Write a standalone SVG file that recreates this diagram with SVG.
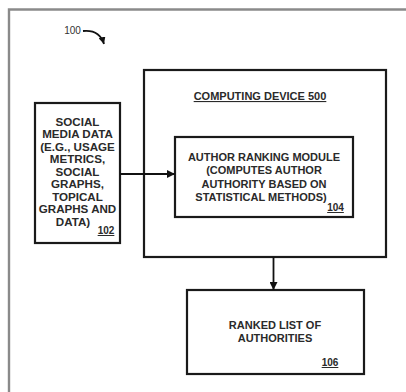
<svg xmlns="http://www.w3.org/2000/svg" width="406" height="392" viewBox="0 0 406 392">
<style>
.box{fill:#fff;stroke:#1a1a1a;stroke-width:2.2}
.t{font-family:"Liberation Sans",Arial,sans-serif;font-weight:bold;font-size:11px;fill:#2a2a2a;text-anchor:middle}
.s{font-size:11.6px}
.u{text-decoration:underline}
.c{stroke:#111;stroke-width:1.8;fill:none}
</style>
<defs>
<marker id="ah" viewBox="0 0 10 10" refX="10" refY="5" markerWidth="8" markerHeight="8" markerUnits="userSpaceOnUse" orient="auto">
<path d="M0,0 L10,5 L0,10 z" fill="#111"/>
</marker>
<marker id="ah2" viewBox="0 0 10 10" refX="10" refY="5" markerWidth="7" markerHeight="7" markerUnits="userSpaceOnUse" orient="auto">
<path d="M0,0 L10,5 L0,10 z" fill="#111"/>
</marker>
</defs>
<rect width="406" height="392" fill="#fff"/>
<path d="M9,392 V9.5 H406" fill="none" stroke="#8a8a8a" stroke-width="2.4"/>
<g id="label100">
<text x="72.5" y="34" class="t" style="font-weight:normal;font-size:10px;fill:#333">100</text>
<path d="M83,31 C93,30 101,34 104,44" class="c" stroke-width="1.3" marker-end="url(#ah2)"/>
</g>
<g id="computing-device">
<rect class="box" x="144" y="70" width="242" height="187"/>
<text x="260" y="100" class="t u">COMPUTING DEVICE 500</text>
</g>
<g id="social-media">
<rect class="box" x="35" y="103" width="85" height="140"/>
<text class="t s" x="77.5" y="125.8">SOCIAL</text>
<text class="t s" x="77.5" y="138.3">MEDIA DATA</text>
<text class="t s" x="77.5" y="150.8">(E.G., USAGE</text>
<text class="t s" x="77.5" y="163.3">METRICS,</text>
<text class="t s" x="77.5" y="175.8">SOCIAL</text>
<text class="t s" x="77.5" y="188.3">GRAPHS,</text>
<text class="t s" x="77.5" y="200.8">TOPICAL</text>
<text class="t s" x="77.5" y="213.3">GRAPHS AND</text>
<text class="t s" x="73" y="225.8">DATA)</text>
<text class="t u" x="106" y="234" style="font-size:10px">102</text>
</g>
<g id="author-ranking">
<rect class="box" x="175" y="137" width="178" height="80"/>
<text class="t" x="264" y="161">AUTHOR RANKING MODULE</text>
<text class="t" x="264" y="174.3">(COMPUTES AUTHOR</text>
<text class="t" x="264" y="187.6">AUTHORITY BASED ON</text>
<text class="t" x="261" y="201">STATISTICAL METHODS)</text>
<text class="t u" x="335.5" y="211" style="font-size:10px">104</text>
</g>
<g id="ranked-list">
<rect class="box" x="187" y="290" width="177" height="84"/>
<text class="t" x="275" y="329">RANKED LIST OF</text>
<text class="t" x="275" y="342">AUTHORITIES</text>
<text class="t u" x="330" y="366" style="font-size:10px">106</text>
</g>
<g id="connectors">
<line class="c" x1="120" y1="174" x2="175" y2="174" marker-end="url(#ah)"/>
<line class="c" x1="273.5" y1="257" x2="273.5" y2="290" marker-end="url(#ah)"/>
</g>
</svg>
